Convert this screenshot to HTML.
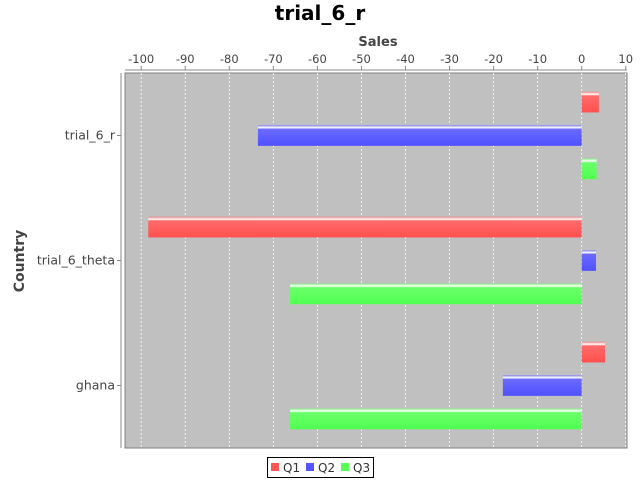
<!DOCTYPE html>
<html><head><meta charset="utf-8"><style>
body{margin:0;background:#fff;}
svg{display:block;font-family:"DejaVu Sans","Liberation Sans",sans-serif;}
</style></head><body>
<svg id="chart" width="640" height="480">
<defs>
<linearGradient id="gQ1" x1="0" y1="0" x2="0" y2="1"><stop offset="0" stop-color="#f08080"/><stop offset="0.12" stop-color="#ffffff"/><stop offset="0.2" stop-color="#ff6a6a"/><stop offset="1" stop-color="#ff5050"/></linearGradient>
<linearGradient id="gQ2" x1="0" y1="0" x2="0" y2="1"><stop offset="0" stop-color="#8080f0"/><stop offset="0.12" stop-color="#ffffff"/><stop offset="0.2" stop-color="#6a6aff"/><stop offset="1" stop-color="#5050ff"/></linearGradient>
<linearGradient id="gQ3" x1="0" y1="0" x2="0" y2="1"><stop offset="0" stop-color="#80f080"/><stop offset="0.12" stop-color="#ffffff"/><stop offset="0.2" stop-color="#6aff6a"/><stop offset="1" stop-color="#50ff50"/></linearGradient>
</defs>
<text x="320" y="20" text-anchor="middle" font-size="20" font-weight="bold">trial_6_r</text>
<text x="378" y="46" text-anchor="middle" font-size="13" font-weight="bold" fill="#444">Sales</text>
<text transform="translate(24,261) rotate(-90)" text-anchor="middle" font-size="14" font-weight="bold" fill="#444">Country</text>
<rect x="125" y="73" width="502" height="375" fill="#c0c0c0" stroke="#808080"/>
<line x1="125" y1="70" x2="627" y2="70" stroke="#888"/>
<line x1="121" y1="73" x2="121" y2="448" stroke="#888"/>
<g id="grid"></g><g id="ticks"></g><g id="bars"></g><g id="cats"></g>
<g>
<rect x="267.5" y="457.5" width="106" height="20" fill="#fff" stroke="#000"/>
<rect x="271" y="463" width="8" height="8" fill="#ff5555"/>
<text x="283" y="472" font-size="12" fill="#333">Q1</text>
<rect x="306" y="463" width="8" height="8" fill="#5555ff"/>
<text x="318" y="472" font-size="12" fill="#333">Q2</text>
<rect x="341" y="463" width="8" height="8" fill="#55ff55"/>
<text x="353" y="472" font-size="12" fill="#333">Q3</text>
</g>
</svg>
<script>
const categories = ["trial_6_r","trial_6_theta","ghana"];
const seriesNames = ["Q1","Q2","Q3"];
const q1 = [3.9, -98.4, 5.3];
const q2 = [-73.5, 3.25, -17.9];
const q3 = [3.4, -66.2, -66.2];
const tickValues = [-100,-90,-80,-70,-60,-50,-40,-30,-20,-10,0,10];

const NS="http://www.w3.org/2000/svg";
const plotTop=73, plotH=375;
function xs(v){return 581.7+v*4.405;}
function mk(tag,attrs,parent){const e=document.createElementNS(NS,tag);for(const k in attrs)e.setAttribute(k,attrs[k]);parent.appendChild(e);return e;}
const grid=document.getElementById('grid'),ticks=document.getElementById('ticks'),bars=document.getElementById('bars'),cats=document.getElementById('cats');
tickValues.forEach(v=>{
  const x=xs(v);
  const g=mk('line',{x1:x,y1:plotTop,x2:x,y2:plotTop+plotH,stroke:'#ffffff','stroke-dasharray':'2,2','stroke-width':0.8},grid);
  
  
  const tk=mk('line',{x1:x,y1:66,x2:x,y2:70,stroke:'#888'},ticks);
  
  
  const t=mk('text',{x:x,y:63,'text-anchor':'middle','font-size':11.5,fill:'#444'},ticks);
  t.textContent=String(v);
  
  
});
const series=[q1,q2,q3];
const catH=plotH/categories.length, slot=33.4, barH=20.7;
categories.forEach((c,i)=>{
  const cy=plotTop+catH*(i+0.5);
  const t=mk('text',{x:115,y:cy+4,'text-anchor':'end','font-size':12.5,fill:'#444'},cats);
  t.textContent=c;
  
  
  const tk=mk('line',{x1:117,y1:cy,x2:121,y2:cy,stroke:'#888'},cats);
  
  
  series.forEach((s,j)=>{
    const v=s[i];
    const y=cy+(j-1)*slot-barH/2;
    const x0=Math.min(xs(0),xs(v)), w=Math.abs(xs(v)-xs(0));
    const r=mk('rect',{x:x0,y:y,width:w,height:barH,fill:'url(#g'+seriesNames[j]+')'},bars);
    
    
  });
});
</script>
</body></html>
